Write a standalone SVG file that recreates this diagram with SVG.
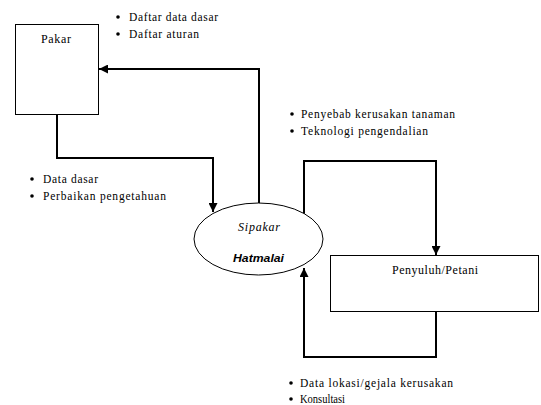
<svg xmlns="http://www.w3.org/2000/svg" width="541" height="405" viewBox="0 0 541 405">
<style>
.box{fill:#fff;stroke:#000;stroke-width:1}
.conn{fill:none;stroke:#000;stroke-width:2}
.t{font-family:'Liberation Serif','Times New Roman',Times,serif;font-size:11.5px;fill:#000}
.lbl{font-family:'Liberation Serif','Times New Roman',Times,serif;font-size:12px;fill:#000}
.it{font-family:'Liberation Serif','Times New Roman',Times,serif;font-size:12px;font-style:italic;fill:#000}
.bi{font-family:'Liberation Sans',Arial,sans-serif;font-size:11.5px;font-style:italic;font-weight:bold;fill:#000}
.dot{fill:#000}
</style>
<defs>
<marker id="arr" viewBox="0 0 10 10" refX="10" refY="5" markerWidth="4.5" markerHeight="4.5" orient="auto" markerUnits="strokeWidth">
<path d="M0,0 L10,5 L0,10 Z" fill="#000"/>
</marker>
</defs>
<rect width="541" height="405" fill="#fff"/>
<g id="connectors">
<path class="conn" d="M57,114 V158 H213 V212" marker-end="url(#arr)"/>
<path class="conn" d="M259,204 V69 H99" marker-end="url(#arr)"/>
<path class="conn" d="M304,215 V161 H436 V255" marker-end="url(#arr)"/>
<path class="conn" d="M436,312 V357 H304 V268" marker-end="url(#arr)"/>
</g>
<g id="pakar">
<rect class="box" x="15.5" y="24.5" width="83" height="90"/>
<text class="lbl" x="41" y="43" textLength="30" lengthAdjust="spacing">Pakar</text>
</g>
<g id="sipakar">
<ellipse class="box" cx="258.5" cy="239" rx="64.5" ry="36"/>
<text class="it" x="238" y="231" textLength="42" lengthAdjust="spacing">Sipakar</text>
<text class="bi" x="233" y="262" textLength="51" lengthAdjust="spacingAndGlyphs">Hatmalai</text>
</g>
<g id="penyuluh">
<rect class="box" x="330.5" y="255.5" width="208" height="56"/>
<text class="lbl" x="392" y="274" textLength="86" lengthAdjust="spacing">Penyuluh/Petani</text>
</g>
<g id="labels">
<circle class="dot" cx="118" cy="17" r="1.8"/>
<text class="t" x="129" y="21" textLength="89" lengthAdjust="spacing">Daftar data dasar</text>
<circle class="dot" cx="118" cy="34" r="1.8"/>
<text class="t" x="129" y="38" textLength="70" lengthAdjust="spacing">Daftar aturan</text>
<circle class="dot" cx="32" cy="179" r="1.8"/>
<text class="t" x="43" y="183" textLength="55" lengthAdjust="spacing">Data dasar</text>
<circle class="dot" cx="32" cy="196" r="1.8"/>
<text class="t" x="43" y="200" textLength="123" lengthAdjust="spacing">Perbaikan pengetahuan</text>
<circle class="dot" cx="292" cy="114" r="1.8"/>
<text class="t" x="301" y="118" textLength="154" lengthAdjust="spacing">Penyebab kerusakan tanaman</text>
<circle class="dot" cx="292" cy="131" r="1.8"/>
<text class="t" x="301" y="135" textLength="127" lengthAdjust="spacing">Teknologi pengendalian</text>
<circle class="dot" cx="291" cy="383" r="1.8"/>
<text class="t" x="300" y="387" textLength="153" lengthAdjust="spacing">Data lokasi/gejala kerusakan</text>
<circle class="dot" cx="291" cy="399" r="1.8"/>
<text class="t" x="300" y="403" textLength="45" lengthAdjust="spacingAndGlyphs">Konsultasi</text>
</g>
</svg>
